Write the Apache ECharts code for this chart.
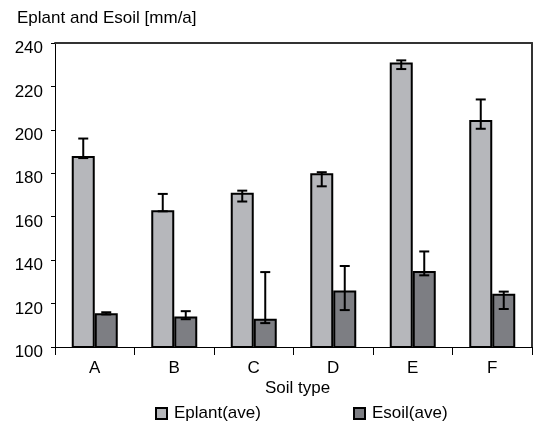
<!DOCTYPE html>
<html>
<head>
<meta charset="utf-8">
<script src="https://cdn.jsdelivr.net/npm/echarts@6/dist/echarts.min.js"></script>
<style>
  html, body { margin: 0; padding: 0; background: #fff; }
  #chart { width: 541px; height: 425px; }
</style>
</head>
<body>
<div id="chart"></div>
<script>
// Soil types on the category axis
const categories = ['A', 'B', 'C', 'D', 'E', 'F'];
// Average transpiration (Eplant) and soil evaporation (Esoil), mm/a
const eplant = [188, 163, 171, 180, 231, 204.5];
const esoil = [115.5, 114, 113, 126, 135, 124.5];
// Error bar extents (lower / upper end) for each average
const eplantLow = [187, 162.5, 167, 174, 228, 200.5];
const eplantHigh = [196, 170.5, 172, 180.5, 232, 214];
const esoilLow = [115, 112.8, 111, 117, 133, 117.5];
const esoilHigh = [116, 116.5, 134.5, 137.3, 144, 125.5];
// Value axis ticks
const yTicks = [100, 120, 140, 160, 180, 200, 220, 240];

const FONT = 'Liberation Sans, Arial, sans-serif';
const BAR_W = 23;

function errorBars(sign) {
  return function (params, api) {
    const x = api.value(0);
    const lo = api.coord([x, api.value(1)]);
    const hi = api.coord([x, api.value(2)]);
    const cx = lo[0] + sign * BAR_W / 2;
    const cap = 5;
    const style = { stroke: '#000', lineWidth: 2 };
    return {
      type: 'group',
      children: [
        { type: 'line', shape: { x1: cx, y1: lo[1], x2: cx, y2: hi[1] }, style: style },
        { type: 'line', shape: { x1: cx - cap, y1: hi[1], x2: cx + cap, y2: hi[1] }, style: style },
        { type: 'line', shape: { x1: cx - cap, y1: lo[1], x2: cx + cap, y2: lo[1] }, style: style }
      ]
    };
  };
}

const chart = echarts.init(document.getElementById('chart'), null, { renderer: 'canvas' });
chart.setOption({
  animation: false,
  backgroundColor: '#fff',
  textStyle: { fontFamily: FONT },
  title: {
    text: 'Eplant and Esoil [mm/a]',
    left: 12, top: 5,
    textStyle: { fontFamily: FONT, fontSize: 17, fontWeight: 'normal', color: '#000' }
  },
  grid: { left: 55, right: 9, top: 43, bottom: 78, containLabel: false },
  legend: [
    {
      data: ['Eplant(ave)'], left: 150, top: 400, itemWidth: 11, itemHeight: 11, itemGap: 0,
      icon: 'rect',
      textStyle: { fontFamily: FONT, fontSize: 17, color: '#000', padding: [0, 0, 0, 2] }
    },
    {
      data: ['Esoil(ave)'], left: 348, top: 400, itemWidth: 11, itemHeight: 11, itemGap: 0,
      icon: 'rect',
      textStyle: { fontFamily: FONT, fontSize: 17, color: '#000', padding: [0, 0, 0, 2] }
    }
  ],
  graphic: [
    {
      type: 'text', left: 265, top: 380,
      style: { text: 'Soil type', fontFamily: FONT, fontSize: 17, fill: '#000' }
    }
  ],
  xAxis: [
    {
      type: 'category', data: categories, position: 'bottom',
      axisLine: { show: true, lineStyle: { color: '#000', width: 1 } },
      axisTick: { show: true, length: 8, lineStyle: { color: '#000', width: 1 } },
      axisLabel: { fontFamily: FONT, fontSize: 17, color: '#000', margin: 13 },
      splitLine: { show: false }
    },
    {
      type: 'category', data: categories, position: 'top',
      axisLine: { show: true, lineStyle: { color: '#333', width: 2 } },
      axisTick: { show: false }, axisLabel: { show: false }, splitLine: { show: false }
    }
  ],
  yAxis: [
    {
      type: 'value', min: yTicks[0], max: yTicks[yTicks.length - 1], interval: 20,
      axisLine: { show: true, lineStyle: { color: '#000', width: 1 } },
      axisTick: { show: true, length: 4, lineStyle: { color: '#000', width: 1 } },
      axisLabel: {
        fontFamily: FONT, fontSize: 17, color: '#000', margin: 12,
        verticalAlign: 'top', lineHeight: 11
      },
      splitLine: { show: false }
    },
    {
      type: 'value', min: yTicks[0], max: yTicks[yTicks.length - 1], interval: 20, position: 'right',
      axisLine: { show: true, lineStyle: { color: '#333', width: 2 } },
      axisTick: { show: false }, axisLabel: { show: false }, splitLine: { show: false }
    }
  ],
  series: [
    {
      name: 'Eplant(ave)', type: 'bar', data: eplant, barWidth: BAR_W, barGap: '0%',
      itemStyle: { color: '#b6b7bb', borderColor: '#000', borderWidth: 2 }
    },
    {
      name: 'Esoil(ave)', type: 'bar', data: esoil, barWidth: BAR_W, barGap: '0%',
      itemStyle: { color: '#7d7e83', borderColor: '#000', borderWidth: 2 }
    },
    {
      type: 'custom', name: 'Eplant error', z: 5,
      renderItem: errorBars(-1),
      encode: { x: 0, y: [1, 2] },
      data: categories.map((c, i) => [i, eplantLow[i], eplantHigh[i]])
    },
    {
      type: 'custom', name: 'Esoil error', z: 5,
      renderItem: errorBars(1),
      encode: { x: 0, y: [1, 2] },
      data: categories.map((c, i) => [i, esoilLow[i], esoilHigh[i]])
    }
  ]
});
</script>
</body>
</html>
